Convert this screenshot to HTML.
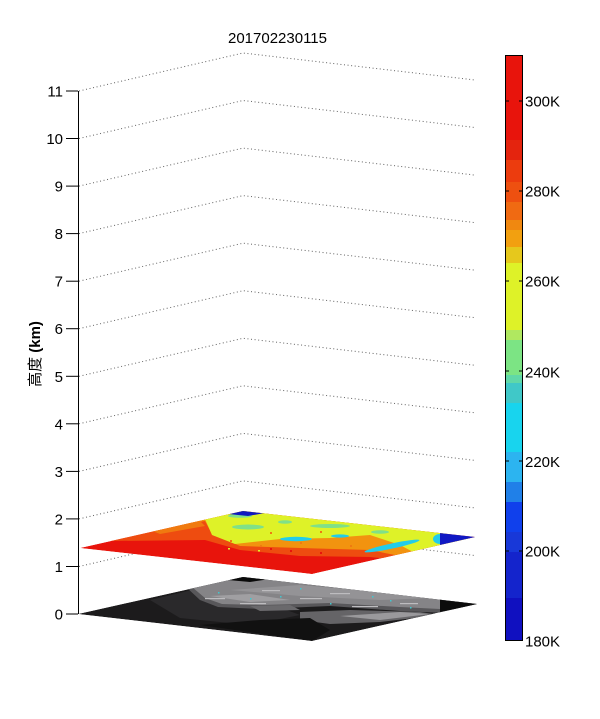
<!DOCTYPE html>
<html><head><meta charset="utf-8"><style>
html,body{margin:0;padding:0;background:#fff;}
svg{display:block;}
text{font-family:"Liberation Sans","Noto Sans CJK SC",sans-serif;fill:#000;}
</style></head><body>
<svg width="600" height="719" viewBox="0 0 600 719" xmlns="http://www.w3.org/2000/svg">
<defs>
<clipPath id="cpTop"><polygon points="80,548 243,511 475,537 312,574"/></clipPath>
<clipPath id="cpBot"><polygon points="78,614 243,577 477,604 312,641"/></clipPath>
</defs>
<rect width="600" height="719" fill="#fff"/>
<text x="277.5" y="43" font-size="15" text-anchor="middle">201702230115</text>

<!-- gridlines -->
<g fill="none" stroke="#222" stroke-width="1" stroke-dasharray="1 2.6" opacity="0.7">
<polyline points="79,566.5 243,528.5 475,555.5"/>
<polyline points="79,518.9 243,480.9 475,507.9"/>
<polyline points="79,471.4 243,433.4 475,460.4"/>
<polyline points="79,423.8 243,385.8 475,412.8"/>
<polyline points="79,376.3 243,338.3 475,365.3"/>
<polyline points="79,328.7 243,290.7 475,317.7"/>
<polyline points="79,281.2 243,243.2 475,270.2"/>
<polyline points="79,233.6 243,195.6 475,222.6"/>
<polyline points="79,186.1 243,148.1 475,175.1"/>
<polyline points="79,138.5 243,100.5 475,127.5"/>
<polyline points="79,91 243,53 475,80"/>
</g>

<!-- axis -->
<g stroke="#000" stroke-width="1">
<line x1="78.5" y1="91" x2="78.5" y2="614"/>
<line x1="66" y1="614" x2="78" y2="614"/>
<line x1="66" y1="566.5" x2="78" y2="566.5"/>
<line x1="66" y1="518.9" x2="78" y2="518.9"/>
<line x1="66" y1="471.4" x2="78" y2="471.4"/>
<line x1="66" y1="423.8" x2="78" y2="423.8"/>
<line x1="66" y1="376.3" x2="78" y2="376.3"/>
<line x1="66" y1="328.7" x2="78" y2="328.7"/>
<line x1="66" y1="281.2" x2="78" y2="281.2"/>
<line x1="66" y1="233.6" x2="78" y2="233.6"/>
<line x1="66" y1="186.1" x2="78" y2="186.1"/>
<line x1="66" y1="138.5" x2="78" y2="138.5"/>
<line x1="66" y1="91" x2="78" y2="91"/>
</g>
<g font-size="15" text-anchor="end">
<text x="63" y="619.5">0</text>
<text x="63" y="572">1</text>
<text x="63" y="524.4">2</text>
<text x="63" y="476.9">3</text>
<text x="63" y="429.3">4</text>
<text x="63" y="381.8">5</text>
<text x="63" y="334.2">6</text>
<text x="63" y="286.7">7</text>
<text x="63" y="239.1">8</text>
<text x="63" y="191.6">9</text>
<text x="63" y="144">10</text>
<text x="63" y="96.5">11</text>
</g>
<text transform="translate(40,354) rotate(-90)" font-size="15" text-anchor="middle">高度 <tspan font-weight="bold">(km)</tspan></text>

<!-- bottom plane (grayscale) -->
<g clip-path="url(#cpBot)">
<polygon points="78,614 243,577 477,604 312,641" fill="#1c1b1c"/>
<polygon points="150,600 200,588 260,600 300,615 250,625 180,618" fill="#2a292b"/>
<polygon points="185,586 200,600 218,607 260,609 330,606 400,611 445,613 500,600 260,560 170,575" fill="#58575a"/>
<polygon points="192,587 205,598 222,604 262,605 330,603 400,607 440,609 500,598 260,560 180,575" fill="#858487"/>
<polygon points="230,590 300,585 380,592 430,598 380,600 300,596" fill="#949396"/>
<polygon points="210,596 250,594 290,600 250,602" fill="#a09fa2"/>
<polygon points="300,612 350,610 420,612 440,615 380,622 330,624 300,620" fill="#656467"/>
<polygon points="340,616 400,612 430,614 380,620" fill="#9a999c"/>
<polygon points="250,606 290,605 300,610 260,611" fill="#6a696c"/>
<g fill="#bdbcbf">
<rect x="205" y="598" width="20" height="1.2"/>
<rect x="240" y="603" width="26" height="1.2"/>
<rect x="300" y="598" width="22" height="1.2"/>
<rect x="352" y="606" width="26" height="1.2"/>
<rect x="262" y="590" width="18" height="1.2"/>
<rect x="400" y="603" width="18" height="1.2"/>
<rect x="330" y="593" width="20" height="1.2"/>
</g>
<g fill="#40c8d0">
<rect x="218" y="592" width="1.5" height="1.5"/><rect x="280" y="596" width="1.5" height="1.5"/>
<rect x="330" y="603" width="1.5" height="1.5"/><rect x="372" y="596" width="1.5" height="1.5"/>
<rect x="410" y="607" width="1.5" height="1.5"/><rect x="300" y="588" width="1.5" height="1.5"/>
<rect x="250" y="598" width="1.5" height="1.5"/><rect x="390" y="600" width="1.5" height="1.5"/>
</g>
<polygon points="228,580 243,576 270,579 250,582" fill="#0a0a0a"/>
<polygon points="440,598 480,604 440,612" fill="#0c0c0c"/>
<polygon points="200,625 260,620 310,618 330,630 312,641" fill="#111"/>
</g>

<!-- top plane (colour) -->
<g clip-path="url(#cpTop)">
<polygon points="80,548 243,511 475,537 312,574" fill="#e8140c"/>
<polygon points="110,541 205,540 240,550 300,556 370,557 400,560 500,540 260,490 100,520" fill="#ee4c10"/>
<polygon points="140,532 205,521 212,534 240,546 300,548 370,550 400,556 500,545 260,495 130,520" fill="#f2930f"/>
<polygon points="205,519 212,535 235,544 280,539 330,538 370,535 400,545 415,553 500,545 260,495 200,505" fill="#def228"/>
<polygon points="240,552 300,558 340,566 312,574 250,565" fill="#e8140c"/>
<polygon points="150,530 200,521 205,526 160,534" fill="#f07a10"/>
<g fill="#80e088">
<ellipse cx="248" cy="527" rx="16" ry="2.5"/>
<ellipse cx="330" cy="526" rx="20" ry="2"/>
<ellipse cx="285" cy="522" rx="7" ry="1.8"/>
<ellipse cx="240" cy="516" rx="12" ry="1.8"/>
<ellipse cx="380" cy="532" rx="9" ry="1.8"/>
</g>
<g fill="#22ccea">
<ellipse cx="296" cy="539" rx="16" ry="2.2"/>
<ellipse cx="392" cy="546" rx="28" ry="2.6" transform="rotate(-12 392 546)"/>
<ellipse cx="440" cy="539" rx="7" ry="5"/>
<ellipse cx="340" cy="536" rx="9" ry="1.6"/>
</g>
<g fill="#f07a10">
<rect x="260" y="545" width="2" height="2"/><rect x="300" y="542" width="2" height="2"/>
<rect x="230" y="540" width="2" height="2"/><rect x="350" y="545" width="2" height="2"/>
<rect x="320" y="531" width="2" height="2"/><rect x="270" y="532" width="2" height="2"/>
</g>
<g fill="#e8140c">
<rect x="270" y="548" width="2" height="2"/><rect x="320" y="552" width="2" height="2"/>
<rect x="290" y="550" width="2" height="2"/>
</g>
<g fill="#def228">
<rect x="228" y="548" width="2" height="1.5"/><rect x="258" y="550" width="2" height="1.5"/>
</g>
<polygon points="440,530 478,537 440,547" fill="#1018c4"/>
<polygon points="228,514 243,510 265,513 248,516" fill="#1018c0"/>
</g>

<!-- colorbar -->
<g>
<rect x="505" y="55" width="18" height="85" fill="#e8140c"/>
<rect x="505" y="140" width="18" height="20" fill="#e4240e"/>
<rect x="505" y="160" width="18" height="22" fill="#ec3c0e"/>
<rect x="505" y="182" width="18" height="20" fill="#ee5010"/>
<rect x="505" y="202" width="18" height="18" fill="#f06a12"/>
<rect x="505" y="220" width="18" height="10" fill="#f08810"/>
<rect x="505" y="230" width="18" height="17" fill="#f2a010"/>
<rect x="505" y="247" width="18" height="16" fill="#e6c81c"/>
<rect x="505" y="263" width="18" height="67" fill="#def228"/>
<rect x="505" y="330" width="18" height="10" fill="#b0e860"/>
<rect x="505" y="340" width="18" height="35" fill="#7ce484"/>
<rect x="505" y="375" width="18" height="8" fill="#60d8a8"/>
<rect x="505" y="383" width="18" height="20" fill="#40c8c8"/>
<rect x="505" y="403" width="18" height="49" fill="#18d4ee"/>
<rect x="505" y="452" width="18" height="30" fill="#2cb4f0"/>
<rect x="505" y="482" width="18" height="20" fill="#2080e8"/>
<rect x="505" y="502" width="18" height="30" fill="#1040ec"/>
<rect x="505" y="532" width="18" height="20" fill="#1838d8"/>
<rect x="505" y="552" width="18" height="46" fill="#1424cc"/>
<rect x="505" y="598" width="18" height="43" fill="#1010c0"/>
<rect x="505.5" y="55.5" width="17" height="585" fill="none" stroke="#000" stroke-width="1"/>
<g stroke="#000" stroke-width="1">
<line x1="505" y1="101" x2="509" y2="101"/><line x1="519" y1="101" x2="523" y2="101"/>
<line x1="505" y1="191" x2="509" y2="191"/><line x1="519" y1="191" x2="523" y2="191"/>
<line x1="505" y1="281" x2="509" y2="281"/><line x1="519" y1="281" x2="523" y2="281"/>
<line x1="505" y1="371" x2="509" y2="371"/><line x1="519" y1="371" x2="523" y2="371"/>
<line x1="505" y1="461" x2="509" y2="461"/><line x1="519" y1="461" x2="523" y2="461"/>
<line x1="505" y1="551" x2="509" y2="551"/><line x1="519" y1="551" x2="523" y2="551"/>
</g>
<g font-size="15">
<text x="525" y="106.5">300K</text>
<text x="525" y="196.5">280K</text>
<text x="525" y="286.5">260K</text>
<text x="525" y="377.5">240K</text>
<text x="525" y="467">220K</text>
<text x="525" y="556.5">200K</text>
<text x="525" y="646.5">180K</text>
</g>
</g>
</svg>
</body></html>
